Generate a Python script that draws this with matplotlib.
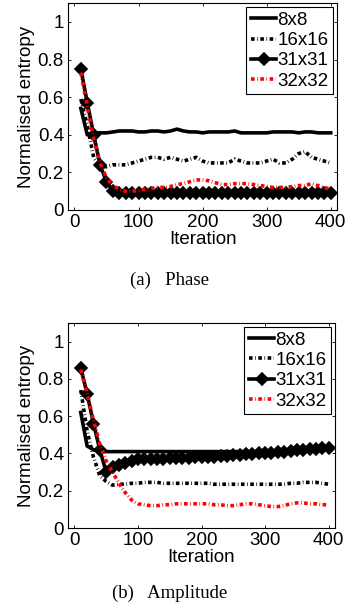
import numpy as np
import matplotlib
matplotlib.use("Agg")
import matplotlib.pyplot as plt

plt.rcParams['font.family'] = ['Liberation Sans', 'DejaVu Sans']
plt.rcParams['lines.scale_dashes'] = False

iters = list(range(10, 401, 10))
labels = ['8x8', '16x16', '31x31', '32x32']

# phase entropy
phase_8 = [0.54, 0.40, 0.41, 0.41, 0.41, 0.415, 0.42, 0.42, 0.42, 0.415,
           0.415, 0.42, 0.42, 0.415, 0.42, 0.43, 0.42, 0.415, 0.415, 0.41,
           0.415, 0.415, 0.415, 0.415, 0.42, 0.41, 0.41, 0.41, 0.41, 0.41,
           0.415, 0.415, 0.415, 0.415, 0.41, 0.415, 0.415, 0.41, 0.41, 0.41]
phase_16 = [0.59, 0.45, 0.28, 0.23, 0.23, 0.24, 0.24, 0.24, 0.25, 0.26,
            0.27, 0.28, 0.28, 0.27, 0.28, 0.27, 0.26, 0.27, 0.28, 0.26,
            0.25, 0.25, 0.25, 0.25, 0.27, 0.26, 0.25, 0.25, 0.25, 0.26,
            0.27, 0.25, 0.25, 0.27, 0.30, 0.31, 0.28, 0.27, 0.26, 0.25]
phase_31 = [0.75, 0.57, 0.40, 0.24, 0.15, 0.10, 0.09, 0.09, 0.09, 0.09,
            0.09, 0.09, 0.09, 0.09, 0.09, 0.09, 0.09, 0.09, 0.09, 0.09,
            0.09, 0.09, 0.09, 0.09, 0.09, 0.09, 0.09, 0.09, 0.09, 0.09,
            0.09, 0.09, 0.09, 0.09, 0.09, 0.09, 0.09, 0.09, 0.09, 0.09]
phase_32 = [0.73, 0.55, 0.38, 0.25, 0.17, 0.13, 0.11, 0.10, 0.10, 0.105,
            0.11, 0.115, 0.12, 0.12, 0.125, 0.135, 0.14, 0.15, 0.16, 0.16,
            0.155, 0.145, 0.135, 0.135, 0.14, 0.14, 0.14, 0.135, 0.13, 0.125,
            0.12, 0.12, 0.12, 0.125, 0.13, 0.13, 0.14, 0.13, 0.12, 0.11]

# amplitude entropy
amp_8 = [0.62, 0.44, 0.42, 0.41, 0.41, 0.41, 0.41, 0.41, 0.41, 0.41,
         0.41, 0.41, 0.41, 0.41, 0.41, 0.41, 0.41, 0.41, 0.41, 0.41,
         0.41, 0.41, 0.41, 0.41, 0.41, 0.41, 0.41, 0.41, 0.41, 0.41,
         0.41, 0.41, 0.415, 0.415, 0.415, 0.415, 0.415, 0.42, 0.42, 0.42]
amp_16 = [0.74, 0.52, 0.38, 0.28, 0.25, 0.23, 0.235, 0.235, 0.24, 0.24,
          0.245, 0.245, 0.245, 0.24, 0.24, 0.24, 0.24, 0.24, 0.24, 0.24,
          0.24, 0.235, 0.235, 0.235, 0.235, 0.235, 0.235, 0.235, 0.235, 0.235,
          0.235, 0.235, 0.235, 0.24, 0.24, 0.245, 0.245, 0.245, 0.24, 0.235]
amp_31 = [0.86, 0.72, 0.56, 0.42, 0.30, 0.33, 0.34, 0.35, 0.36, 0.37,
          0.37, 0.37, 0.37, 0.37, 0.375, 0.375, 0.375, 0.375, 0.38, 0.38,
          0.38, 0.38, 0.385, 0.385, 0.39, 0.39, 0.395, 0.395, 0.40, 0.405,
          0.405, 0.41, 0.41, 0.415, 0.42, 0.42, 0.425, 0.425, 0.43, 0.43]
amp_32 = [0.85, 0.72, 0.58, 0.45, 0.36, 0.30, 0.24, 0.19, 0.15, 0.13,
          0.125, 0.12, 0.12, 0.125, 0.125, 0.13, 0.13, 0.13, 0.13, 0.13,
          0.13, 0.125, 0.125, 0.12, 0.12, 0.125, 0.13, 0.13, 0.125, 0.12,
          0.115, 0.115, 0.12, 0.13, 0.135, 0.135, 0.13, 0.13, 0.125, 0.125]

dash = (2.6, 1.8, 0.5, 1.8)
fs = 13.5


def draw(ax, s8, s16, s31, s32, caption, cap_y):
    ax.plot(iters, s8, '-', color='black', lw=2.6, label=labels[0])
    ax.plot(iters, s16, color='black', lw=2.6, dashes=dash, label=labels[1])
    ax.plot(iters, s31, '-', color='black', lw=2.6, marker='D', ms=6.5,
            mew=1.2, label=labels[2])
    ax.plot(iters, s32, color='red', lw=2.6, dashes=dash, label=labels[3])
    ax.set_xlim(-10, 410)
    ax.set_ylim(0, 1.1)
    ax.set_xticks([0, 100, 200, 300, 400])
    ax.set_yticks([0, 0.2, 0.4, 0.6, 0.8, 1])
    ax.set_yticklabels(['0', '0.2', '0.4', '0.6', '0.8', '1'])
    ax.tick_params(direction='in', length=2.5, width=0.6, top=True,
                   right=True, labelsize=fs, pad=3)
    for sp in ax.spines.values():
        sp.set_linewidth(0.8)
    ax.set_xlabel('Iteration', fontsize=fs, labelpad=0)
    ax.set_ylabel('Normalised entropy', fontsize=fs, labelpad=2)
    leg = ax.legend(loc='upper right', bbox_to_anchor=(0.985, 0.981),
                    fontsize=fs, handlelength=1.35, handletextpad=0.05,
                    labelspacing=0.17, borderpad=0.25, borderaxespad=0,
                    fancybox=False, framealpha=1, edgecolor='black')
    leg.get_frame().set_linewidth(0.8)
    fig.text(0.487, cap_y, caption, ha='center', va='center',
             fontsize=13.5, family='Liberation Serif')


fig = plt.figure(figsize=(3.49, 6.14), dpi=100)
ax1 = fig.add_axes([0.195, 0.658, 0.771, 0.337])
ax2 = fig.add_axes([0.195, 0.140, 0.765, 0.334])

draw(ax1, phase_8, phase_16, phase_31, phase_32, '(a)   Phase', 1 - 280 / 614)
draw(ax2, amp_8, amp_16, amp_31, amp_32, '(b)   Amplitude', 1 - 593 / 614)

fig.savefig('out.png', dpi=100)
